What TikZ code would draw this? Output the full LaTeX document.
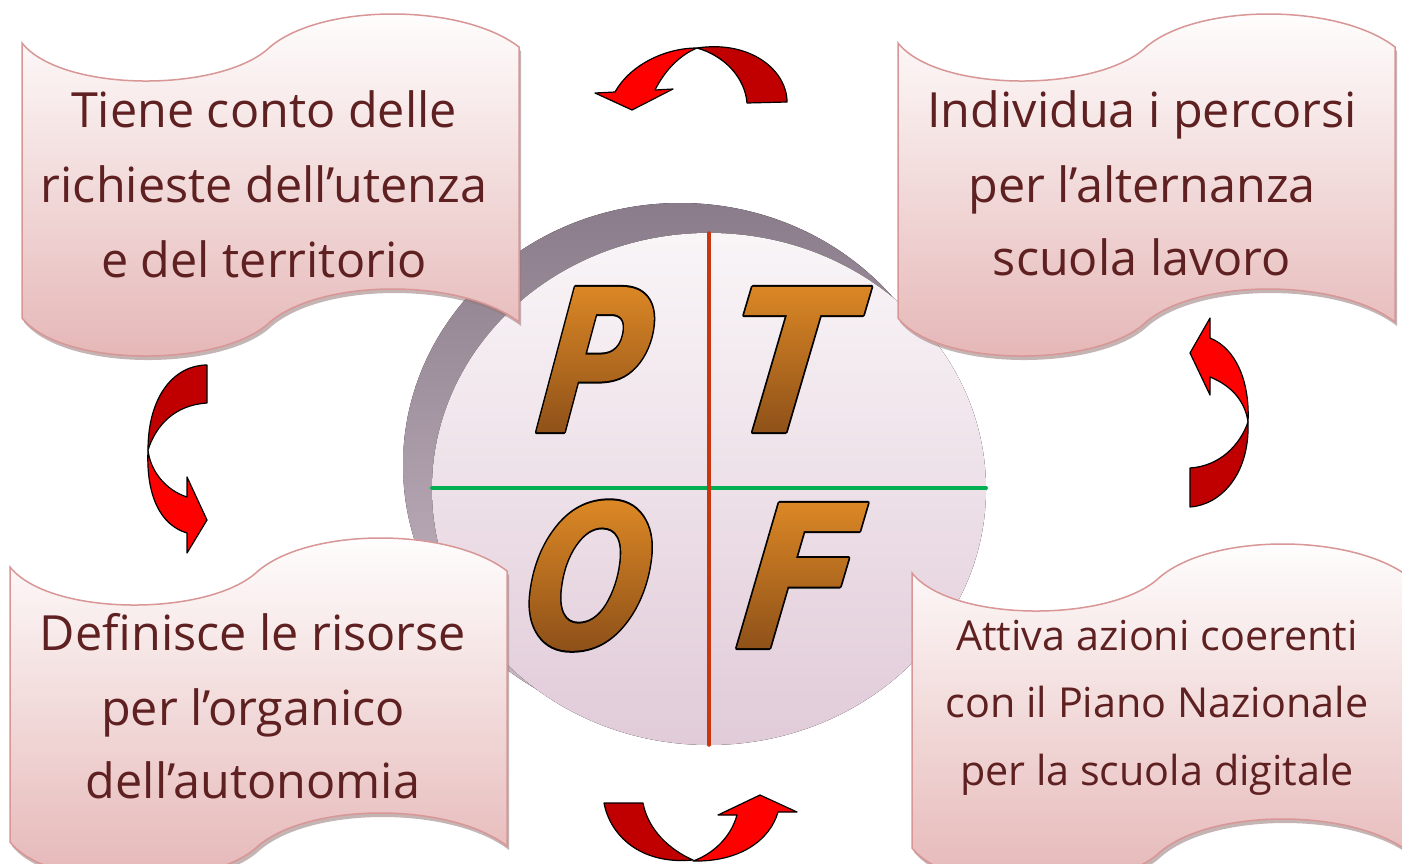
\documentclass[tikz,border=0pt]{standalone}
\RequirePackage{fontspec}
\RequirePackage{tikz}
\RequirePackage{tkz-euclide}
\usetikzlibrary{calc}
\usetikzlibrary{shadows}

\newfontfamily\boxfont{Open Sans}
\newfontfamily\letterfont{DejaVu Sans}

\definecolor{boxtext}{RGB}{94,32,32}
\definecolor{boxedge}{RGB}{217,150,150}
\definecolor{boxpink}{RGB}{229,181,181}
\definecolor{boxshadow}{RGB}{150,120,120}
\definecolor{ringtop}{RGB}{138,124,138}
\definecolor{ringbot}{RGB}{205,188,200}
\definecolor{disctop}{RGB}{249,245,247}
\definecolor{discbot}{RGB}{225,203,217}
\definecolor{arrowred}{RGB}{255,0,0}
\definecolor{arrowdark}{RGB}{192,0,0}
\definecolor{linered}{RGB}{200,55,15}
\definecolor{linegreen}{RGB}{0,176,80}
\definecolor{letterfill}{RGB}{200,115,35}
\definecolor{letterlight}{RGB}{226,140,38}
\definecolor{letterdark}{RGB}{138,78,24}

\pgfdeclareverticalshading{lettershade}{230pt}{color(0pt)=(letterdark); color(170pt)=(letterlight)}

% wave shaped box, top left corner at (#2,#3)
\newcommand{\wavebox}[3]{%
  \path[wave, shift={(#2,#3)}] (0,0)
    .. controls (40,50) and (200,50) .. (248,4)
    .. controls (300,-40) and (440,-40) .. (497,4) -- (497,279)
    .. controls (440,235) and (300,235) .. (248,279)
    .. controls (200,325) and (40,325) .. (0,275) -- cycle;
  \coordinate (#1) at (#2,#3);}

% letter with a black outline, then clipped gradient (text render mode 6)
\newcommand{\outlined}[1]{%
  \special{pdf:literal direct 0 0 0 RG 4 w 1 j 6 Tr}#1\special{pdf:literal direct 0 Tr}%
  \rlap{\kern-170pt\raisebox{-10pt}{\pgfuseshading{lettershade}}}}

\begin{document}
\begin{tikzpicture}[x=1pt,y=-1pt,
    wave/.style={top color=white, bottom color=boxpink, draw=boxedge, line width=1.5pt,
      drop shadow={shadow xshift=2pt, shadow yshift=-4pt, fill=boxshadow, opacity=.55}},
    boxtxt/.style={text=boxtext, font=\boxfont\fontsize{48.5}{58}\selectfont, anchor=base, inner sep=0pt},
    smalltxt/.style={boxtxt, font=\boxfont\fontsize{41.3}{50}\selectfont},
    letter/.style={font=\letterfont\bfseries\itshape\fontsize{199}{200}\selectfont,
      text=letterfill, anchor=base, inner sep=0pt, xslant=.12},
    arrowback/.style={fill=arrowdark, draw=black, line width=1.2pt, line join=round},
    arrowfront/.style={fill=arrowred, draw=black, line width=1.2pt, line join=round}]

  \useasboundingbox (0,0) rectangle (1402,863);
  \fill[white] (0,0) rectangle (1402,863);

  % ring and disc
  \fill[top color=ringtop, bottom color=ringbot] (680,465) ellipse [x radius=277, y radius=262];
  \fill[top color=disctop, bottom color=discbot] (709,489) ellipse [x radius=277, y radius=256];

  \tkzDefPoint(709,233){V1}
  \tkzDefPoint(709,745){V2}
  \tkzDefPoint(432,488){H1}
  \tkzDefPoint(986,488){H2}
  \tkzDrawSegment[linegreen, line width=4pt](H1,H2)
  \tkzDrawSegment[linered, line width=3.5pt](V1,V2)

  % the four letters
  \begin{scope}[shift={(588,432)}]
    \node[letter, xscale=.75] (P) at (0,0) {\outlined{P}};
  \end{scope}
  \begin{scope}[shift={(782,432)}]
    \node[letter, xscale=.89] (T) at (0,0) {\outlined{T}};
  \end{scope}
  \begin{scope}[shift={(582,648)}]
    \node[letter, xscale=.75] (O) at (0,0) {\outlined{O}};
  \end{scope}
  \begin{scope}[shift={(793,648)}]
    \node[letter, xscale=.88] (F) at (0,0) {\outlined{F}};
  \end{scope}

  % the four boxes
  \wavebox{A}{22}{43}
  \wavebox{B}{898}{43}
  \wavebox{C}{10}{567}
  \wavebox{D}{912}{573}

  \node[boxtxt] (a1) at (264,127) {Tiene conto delle};
  \node[boxtxt] (a2) at (264,202) {richieste dell’utenza};
  \node[boxtxt] (a3) at (264,277) {e del territorio};

  \node[boxtxt] (b1) at (1142,127) {Individua i percorsi};
  \node[boxtxt] (b2) at (1142,202) {per l’alternanza};
  \node[boxtxt] (b3) at (1142,275) {scuola lavoro};

  \node[boxtxt] (c1) at (253,650) {Definisce le risorse};
  \node[boxtxt] (c2) at (253,725) {per l’organico};
  \node[boxtxt] (c3) at (253,798) {dell’autonomia};

  \node[smalltxt] (d1) at (1157,650) {Attiva azioni coerenti};
  \node[smalltxt] (d2) at (1157,717) {con il Piano Nazionale};
  \node[smalltxt] (d3) at (1157,785) {per la scuola digitale};

  % curved arrows
  \draw[arrowback] (697,48) .. controls (750,40) and (787,70) .. (787,102) -- (747,103)
    .. controls (745,78) and (725,56) .. (697,48) -- cycle;
  \draw[arrowfront] (697,48) .. controls (665,48) and (630,65) .. (615,92) -- (595,93)
    -- (632,110) -- (673,89) -- (655,90) .. controls (665,70) and (680,55) .. (697,48) -- cycle;

  \draw[arrowback] (148,450) .. controls (148,395) and (175,365) .. (207,365) -- (207,403)
    .. controls (175,405) and (156,425) .. (148,450) -- cycle;
  \draw[arrowfront] (148,450) .. controls (146,495) and (160,525) .. (187,533) -- (187,553)
    -- (207,520) -- (187,477) -- (187,497) .. controls (165,490) and (150,470) .. (148,450) -- cycle;

  \draw[arrowback] (1248,422) .. controls (1250,475) and (1220,505) .. (1190,507) -- (1190,468)
    .. controls (1220,466) and (1240,445) .. (1248,422) -- cycle;
  \draw[arrowfront] (1248,422) .. controls (1250,380) and (1235,348) .. (1210,338) -- (1210,318)
    -- (1190,353) -- (1210,395) -- (1210,377) .. controls (1230,385) and (1245,400) .. (1248,422) -- cycle;

  \draw[arrowback] (604,803) -- (643,803) .. controls (648,830) and (670,850) .. (693,860)
    .. controls (640,865) and (610,835) .. (604,803) -- cycle;
  \draw[arrowfront] (693,861) .. controls (740,862) and (770,840) .. (778,812) -- (797,812)
    -- (760,795) -- (718,815) -- (737,815) .. controls (730,840) and (710,855) .. (693,861) -- cycle;
\end{tikzpicture}
\end{document}
